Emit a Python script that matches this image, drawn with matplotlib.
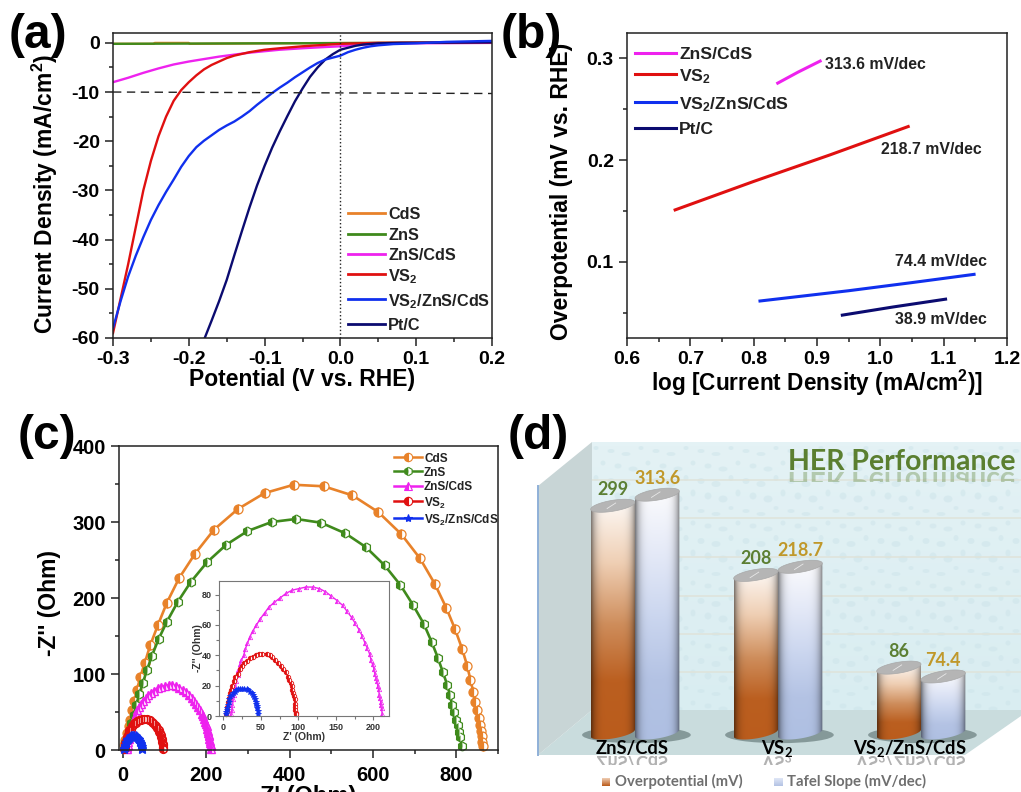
import numpy as np
import matplotlib
matplotlib.use("Agg")
import matplotlib.pyplot as plt
from matplotlib.colors import LinearSegmentedColormap
from matplotlib.font_manager import FontProperties
from matplotlib.lines import Line2D
from matplotlib.patches import Polygon, Ellipse, PathPatch, Rectangle
from matplotlib.textpath import TextPath
from matplotlib.transforms import Affine2D

W, H = 1021, 792

plt.rcParams['font.family'] = ['Liberation Sans', 'DejaVu Sans']
plt.rcParams['font.weight'] = 'bold'
plt.rcParams['axes.labelweight'] = 'bold'
plt.rcParams['mathtext.default'] = 'regular'
plt.rcParams['axes.unicode_minus'] = False

# panel a: polarisation curves
cds_v = [-0.3, -0.246, -0.245, -0.2, -0.199, -0.1, 0.0, 0.1, 0.2]
cds_j = [-0.2, -0.2, -0.02, -0.02, -0.2, -0.1, -0.05, 0.0, 0.0]
zns_v = [-0.3, -0.2, -0.1, 0.0, 0.1, 0.2]
zns_j = [-0.2, -0.15, -0.1, -0.05, 0.0, 0.0]
znscds_v = [-0.3, -0.28, -0.26, -0.24, -0.22, -0.2, -0.18, -0.16, -0.14, -0.12, -0.1, -0.08, -0.05,
            -0.02, 0.0, 0.02, 0.04, 0.08, 0.145, 0.2]
znscds_j = [-8, -7.1, -6.1, -5.2, -4.4, -3.8, -3.3, -2.8, -2.4, -2.0, -1.7, -1.4, -1.1,
            -0.85, -0.7, -0.45, -0.25, -0.1, -0.05, 0.0]
vs2_v = [-0.3, -0.29, -0.28, -0.27, -0.26, -0.25, -0.24, -0.23, -0.22, -0.21, -0.2, -0.19,
         -0.18, -0.17, -0.16, -0.15, -0.14, -0.12, -0.1, -0.08, -0.05, -0.02, 0.0, 0.05, 0.2]
vs2_j = [-59, -52, -45, -37.5, -30, -24, -19, -15, -11.8, -9.6, -8, -6.6,
         -5.4, -4.5, -3.8, -3.1, -2.6, -1.9, -1.4, -1.1, -0.7, -0.4, -0.2, 0.0, 0.1]
blue_v = [-0.3, -0.29, -0.28, -0.27, -0.26, -0.25, -0.24, -0.23, -0.22, -0.21, -0.2, -0.19, -0.18,
          -0.17, -0.16, -0.15, -0.14, -0.13, -0.12, -0.11, -0.1, -0.09, -0.08, -0.07, -0.06, -0.05,
          -0.04, -0.03, -0.02, -0.01, 0.0, 0.01, 0.02, 0.03, 0.04, 0.05, 0.07, 0.1, 0.14, 0.2]
blue_j = [-58, -52.5, -47.5, -43.3, -39.5, -36, -33, -30.3, -27.8, -25.2, -23, -21.2, -19.9,
          -18.8, -17.7, -16.8, -16, -15, -13.9, -12.6, -11.4, -10.2, -9.1, -8.1, -7, -6,
          -5, -4.1, -3.4, -3, -2.6, -1.9, -1.4, -1, -0.7, -0.5, -0.25, -0.1, 0.2, 0.4]
ptc_v = [-0.179, -0.17, -0.16, -0.15, -0.14, -0.13, -0.12, -0.11, -0.1, -0.09, -0.08, -0.07, -0.06,
         -0.05, -0.04, -0.03, -0.02, -0.01, 0.0, 0.01, 0.02, 0.03, 0.05, 0.08, 0.2]
ptc_j = [-60, -56.5, -52.5, -48.2, -43.2, -38.3, -33.5, -29, -25, -21.3, -18, -14.9, -11.9,
         -9.3, -6.9, -5, -3.4, -2.3, -1.4, -1, -0.6, -0.35, -0.1, 0.0, 0.1]

# panel b: tafel lines
tafel_znscds_x = [0.838, 0.87, 0.905]
tafel_znscds_y = [0.2757, 0.2865, 0.2974]
tafel_vs2_x = [0.676, 0.8, 0.92, 1.044]
tafel_vs2_y = [0.151, 0.179, 0.205, 0.233]
tafel_blue_x = [0.81, 0.95, 1.05, 1.148]
tafel_blue_y = [0.0614, 0.0715, 0.0795, 0.0876]
tafel_ptc_x = [0.94, 1.02, 1.103]
tafel_ptc_y = [0.0475, 0.0555, 0.0632]

# panel c: nyquist points
cds_re = [3, 6, 10, 14, 18, 22, 28, 34, 42, 53, 66, 84, 106, 135, 173, 219, 276, 340, 410, 482, 551,
          613, 668, 713, 748, 776, 797, 814, 826, 834, 841, 846, 850, 854, 857, 859, 861, 862, 864]
cds_im = [7, 13, 22, 31, 40, 52, 65, 79, 96, 115, 138, 164, 194, 226, 258, 290, 317, 338, 349, 347, 335,
          313, 284, 252, 219, 187, 159, 133, 111, 92, 76, 63, 52, 42, 33, 25, 18, 11, 5]
zns_re = [6, 10, 15, 20, 26, 32, 40, 48, 58, 70, 86, 106, 132, 163, 202, 248, 299, 357, 416, 476, 534,
          583, 628, 666, 696, 722, 741, 756, 768, 778, 785, 790, 794, 799, 803, 806, 810, 813]
zns_im = [9, 15, 24, 35, 46, 59, 74, 88, 105, 124, 146, 169, 195, 221, 247, 270, 288, 300, 304, 299, 285,
          267, 243, 217, 191, 166, 142, 121, 102, 86, 72, 59, 50, 40, 33, 24, 17, 5]
znscds_re = [10, 11, 12, 13, 14, 16, 17, 19, 20, 22, 24, 27, 29, 32, 35, 39, 44, 49, 55, 61, 68, 76, 84, 92,
             101, 110, 119, 128, 136, 144, 152, 159, 165, 171, 176, 181, 185, 189, 192, 195, 197, 199, 201,
             202, 204, 205, 206, 207, 208, 209, 210, 210.5, 211, 212]
znscds_im = [1, 4, 7, 11, 14, 20, 23, 27, 30, 34, 37, 40, 44, 48, 52, 56, 60, 64, 68, 72, 75, 78, 81, 83,
             84, 85, 85, 84, 82, 79, 76, 73, 69, 65, 61, 57, 53, 48, 45, 41, 37, 34, 31,
             28, 25, 23, 20, 18, 14, 12, 9, 7, 5, 1]
vs2_re = [4, 4.5, 5, 6, 8, 9, 10, 12, 14, 16, 19, 22, 25, 28, 32, 35, 39, 43, 47, 52, 58, 62, 65, 69, 73, 77,
          80, 83, 86, 88, 90, 91, 92, 93, 94, 95, 96, 96, 96, 96.5, 96.5]
vs2_im = [1, 3, 6, 9, 12, 15, 17, 20, 23, 26, 28, 31, 33, 35, 36, 38, 39, 40, 41, 41, 41, 40, 39, 37, 35, 33,
          31, 29, 26, 24, 22, 20, 17, 15, 13, 11, 8, 6, 4, 2, 1]
blue_re = [3.5, 4, 4.5, 5, 6, 7, 8, 9, 11, 13, 15, 17, 20, 22, 25, 28, 31, 33, 36, 38, 39, 41, 42, 43, 44, 44.5,
           45, 45.5, 45.5]
blue_im = [1, 2.5, 4, 5.5, 7, 9, 11, 13, 14, 15, 16, 17, 18, 18, 18, 18, 18, 17, 16, 15, 14, 12.5, 11, 9.5, 8, 6.5,
           5, 3, 1]

# panel d: bars
categories = ['ZnS/CdS', r'VS$_2$', r'VS$_2$/ZnS/CdS']
overpotential = [299, 208, 86]
tafel_slope = [313.6, 218.7, 74.4]

fig = plt.figure(figsize=(W / 100, H / 100), dpi=100, facecolor='white')


def px_axes(x0, y0, x1, y1, **kw):
    return fig.add_axes([x0 / W, 1 - y1 / H, (x1 - x0) / W, (y1 - y0) / H], **kw)


def style(ax, size=14, lw=1.1, col='#222222'):
    for s in ax.spines.values():
        s.set_linewidth(lw)
        s.set_color(col)
    ax.tick_params(which='major', length=5.5, width=lw, labelsize=size, color=col, pad=4)
    ax.tick_params(which='minor', length=3, width=lw, color=col)


def label_at(axis, x, y, box):
    # place an axis label at a pixel position
    axis.set_label_coords((x - box[0]) / (box[2] - box[0]), (box[3] - y) / (box[3] - box[1]))


def legend_entry(x0, x1, xt, y, color, text, size, lw=2, marker=None, ms=6, fill='left'):
    line = Line2D([x0 / W, x1 / W], [1 - y / H, 1 - y / H], transform=fig.transFigure, color=color, lw=lw)
    fig.add_artist(line)
    if marker:
        fig.add_artist(Line2D([(x0 + x1) / 2 / W], [1 - y / H], transform=fig.transFigure, color=color,
                              marker=marker, ms=ms, mew=0.8, fillstyle=fill, markerfacecoloralt='white'))
    fig.text(xt / W, 1 - y / H, text, fontsize=size, va='center_baseline', color='#222222', zorder=20)


ORANGE, GREEN, MAGENTA, RED, BLUE, NAVY = '#e8822a', '#3f8a1c', '#ee22ee', '#e01010', '#1030ee', '#0b0b70'

# (a)
box_a = (113, 33, 492, 338)
ax = px_axes(*box_a)
ax.plot(cds_v, cds_j, color=ORANGE, lw=1.7)
ax.plot(zns_v, zns_j, color=GREEN, lw=1.7)
ax.plot(znscds_v, znscds_j, color=MAGENTA, lw=1.7)
ax.plot(vs2_v, vs2_j, color=RED, lw=1.7)
ax.plot(ptc_v, ptc_j, color=NAVY, lw=1.7)
ax.plot(blue_v, blue_j, color=BLUE, lw=1.7)
ax.plot([-0.3, 0.2], [-10, -10.3], color='#222222', lw=1, ls=(0, (6, 4)))
ax.axvline(0, color='#222222', lw=1, ls=':')
ax.set_xlim(-0.3, 0.2)
ax.set_ylim(-60, 2)
ax.set_xticks([-0.3, -0.2, -0.1, 0.0, 0.1, 0.2])
ax.set_xticks(np.arange(-0.25, 0.2, 0.1), minor=True)
ax.set_yticks([0, -10, -20, -30, -40, -50, -60])
ax.set_yticks(np.arange(-55, 0, 10), minor=True)
style(ax)
ax.set_xlabel('Potential (V vs. RHE)', fontsize=16.5, labelpad=0)
ax.set_ylabel('Current Density (mA/cm$^2$)', fontsize=16.5)
label_at(ax.yaxis, 60, 194, box_a)
for y, col, txt in zip([213, 234, 254, 274, 299, 324], [ORANGE, GREEN, MAGENTA, RED, BLUE, NAVY],
                       ['CdS', 'ZnS', 'ZnS/CdS', r'VS$_2$', r'VS$_2$/ZnS/CdS', 'Pt/C']):
    legend_entry(348, 385, 388, y, col, txt, 11.7)

# (b)
box_b = (627, 33, 1007, 338)
ax = px_axes(*box_b)
ax.plot(tafel_znscds_x, tafel_znscds_y, color=MAGENTA, lw=2.2)
ax.plot(tafel_vs2_x, tafel_vs2_y, color=RED, lw=2.2)
ax.plot(tafel_blue_x, tafel_blue_y, color=BLUE, lw=2.2)
ax.plot(tafel_ptc_x, tafel_ptc_y, color=NAVY, lw=2.2)
ax.set_xlim(0.6, 1.2)
ax.set_ylim(0.025, 0.325)
ax.set_xticks([0.6, 0.7, 0.8, 0.9, 1.0, 1.1, 1.2])
ax.set_xticks(np.arange(0.65, 1.2, 0.1), minor=True)
ax.set_yticks([0.1, 0.2, 0.3])
ax.set_yticks([0.05, 0.15, 0.25], minor=True)
style(ax)
ax.set_xlabel('log [Current Density (mA/cm$^2$)]', fontsize=16.3, labelpad=0)
ax.set_ylabel('Overpotential (mV vs. RHE)', fontsize=16.5)
label_at(ax.yaxis, 573, 191, box_b)
for y, col, txt in zip([53, 74, 102, 128], [MAGENTA, RED, BLUE, NAVY],
                       ['ZnS/CdS', r'VS$_2$', r'VS$_2$/ZnS/CdS', 'Pt/C']):
    legend_entry(635, 676, 679, y, col, txt, 12.6, lw=2.2)
ax.text(0.912, 0.2938, '313.6 mV/dec', fontsize=11.4, va='center', color='#222222')
ax.text(1.001, 0.21, '218.7 mV/dec', fontsize=11.4, va='center', color='#222222')
ax.text(1.023, 0.1006, '74.4 mV/dec', fontsize=11.4, va='center', color='#222222')
ax.text(1.023, 0.0431, '38.9 mV/dec', fontsize=11.4, va='center', color='#222222')

# (c)
box_c = (119, 446, 498, 750)
ax = px_axes(*box_c)


def nyquist(a, re, im, color, marker, ms, lw, mew, fill='left'):
    a.plot(re, im, color=color, marker=marker, ms=ms, lw=lw, mew=mew, fillstyle=fill,
           markerfacecoloralt='white', clip_on=False)


nyquist(ax, cds_re, cds_im, ORANGE, 'o', 6.5, 1.9, 0.9)
nyquist(ax, zns_re, zns_im, GREEN, 'h', 6.5, 1.9, 0.9)
nyquist(ax, znscds_re, znscds_im, MAGENTA, '^', 6, 1.8, 1.0)
nyquist(ax, vs2_re, vs2_im, RED, 'o', 5.5, 2.2, 1.1)
nyquist(ax, blue_re, blue_im, BLUE, '*', 6.5, 2.2, 1.0, fill='full')
ax.set_xlim(-9, 900)
ax.set_ylim(0, 400)
ax.set_xticks([0, 200, 400, 600, 800])
ax.set_xticks([100, 300, 500, 700, 900], minor=True)
ax.set_yticks([0, 100, 200, 300, 400])
ax.set_yticks([50, 150, 250, 350], minor=True)
style(ax, size=14.5)
ax.tick_params(axis='x', which='major', pad=6)
ax.set_xlabel("Z' (Ohm)", fontsize=17, labelpad=0)
ax.set_ylabel("-Z'' (Ohm)", fontsize=16.5)
label_at(ax.yaxis, 61, 603, box_c)
for y, col, txt, mk, fl in zip([457, 471, 486, 501, 518], [ORANGE, GREEN, MAGENTA, RED, BLUE],
                               ['CdS', 'ZnS', 'ZnS/CdS', r'VS$_2$', r'VS$_2$/ZnS/CdS'],
                               ['o', 'h', '^', 'o', '*'], ['left', 'left', 'left', 'left', 'full']):
    legend_entry(394, 422, 424, y, col, txt, 8.5, lw=1.8, marker=mk, fill=fl)

ins = px_axes(219, 581, 389, 716)
nyquist(ins, znscds_re, znscds_im, MAGENTA, '^', 3.2, 1.0, 0.5)
nyquist(ins, vs2_re, vs2_im, RED, 'o', 3.2, 1.0, 0.6)
nyquist(ins, blue_re, blue_im, BLUE, '*', 4, 1.0, 0.6, fill='full')
ins.set_xlim(-6, 221)
ins.set_ylim(0, 89)
ins.set_xticks([0, 50, 100, 150, 200])
ins.set_xticks([25, 75, 125, 175], minor=True)
ins.set_yticks([0, 20, 40, 60, 80])
ins.set_yticks([10, 30, 50, 70], minor=True)
style(ins, size=6.5, lw=0.8, col='#777777')
ins.tick_params(which='major', length=3, pad=2, labelcolor='#333333')
ins.tick_params(which='minor', length=2)
ins.set_xlabel("Z' (Ohm)", fontsize=7.5, labelpad=0, color='#333333')
ins.set_ylabel("-Z'' (Ohm)", fontsize=7.5, labelpad=-1, color='#333333')

# (d)
bg = px_axes(510, 400, 1021, 792)
bg.axis('off')
wall = LinearSegmentedColormap.from_list('wall', ['#e4f2f5', '#d9edf1'])
bg.imshow(np.linspace(0, 1, 64)[:, None], cmap=wall, extent=(592, 1021, 710, 442), aspect='auto', zorder=1)
bg.set_xlim(510, 1021)
bg.set_ylim(792, 400)
# droplet texture on the back wall
for i in range(0, 30):
    for j in range(0, 18):
        ex = 596 + i * 15 + (j % 2) * 7
        ey = 448 + j * 15 + (i % 3) * 3
        if ex < 1021:
            bg.add_patch(Ellipse((ex, ey), 5 + i % 3 * 2, 4 + j % 4, fc='#cde4ea', ec='none', alpha=0.5, zorder=1.5))
for gy in [480, 518, 557, 596, 634, 672]:
    bg.plot([592, 1021], [gy, gy], color='#dfe3da', lw=1.1, zorder=2)
bg.add_patch(Polygon([(592, 710), (1021, 710), (1021, 716), (965, 755), (538, 755)], fc='#c9dcdd', ec='none', zorder=2))
bg.add_patch(Polygon([(538, 486), (592, 442), (592, 710), (538, 755)], fc='#c8d5d6', ec='none', zorder=2))
bg.plot([538, 538], [486, 755], color='#8fb0d8', lw=1.4, zorder=3)

# bars use value units on y and category units on x
PX_PER_UNIT = 0.76
BASE = 733
GROUP0, GROUP_STEP = 635, 143
bars = px_axes(510, 400, 1021, 792, facecolor='none')
bars.axis('off')

orange_grad = LinearSegmentedColormap.from_list('o', ['#bb5c1c', '#bb5f20', '#cf8f5e', '#efcfb4', '#fdf8f4'])
blue_grad = LinearSegmentedColormap.from_list('b', ['#aebfe2', '#b4c3e4', '#cbd6ef', '#e4e9f7', '#fbfbfd'])
BAR_W = 0.31
RX = BAR_W / 2
RY = 5.5 / PX_PER_UNIT
TILT = 3.5 / PX_PER_UNIT


def cylinder(ax, xc, value, cmap, z):
    t = np.linspace(np.pi, 2 * np.pi, 60)
    bx = xc + RX * np.cos(t)
    by = RY * np.sin(t) + TILT * np.cos(t)
    tx = xc + RX * np.cos(t[::-1])
    ty = value + TILT * np.cos(t[::-1])
    clip = Polygon(np.r_[np.c_[bx, by], np.c_[tx, ty]], transform=ax.transData, fc='none', ec='none')
    ax.add_patch(clip)
    v = cmap(np.linspace(0, 1, 128))[:, :3]
    u = np.linspace(-1, 1, 80)
    shade = 1 - 0.5 * np.abs(u) ** 5
    img = v[:, None, :] * shade[None, :, None]
    artist = ax.imshow(img, origin='lower', aspect='auto', zorder=z,
                       extent=(xc - RX, xc + RX, -RY - TILT, value + TILT), interpolation='bilinear')
    artist.set_clip_path(clip)
    t2 = np.linspace(0, 2 * np.pi, 80)
    ax.add_patch(Polygon(np.c_[xc + RX * np.cos(t2), value + RY * np.sin(t2) + TILT * np.cos(t2)],
                         fc='#b5b5b5', ec='#a8a8a8', lw=0.5, zorder=z + 0.5))
    ax.plot([xc - 0.04, xc + 0.02], [value - RY * 0.5, value + RY * 0.5], color='#e8e8e8', lw=0.6, zorder=z + 0.6)


def reflection(text, x, y, size, color, height, family='Lato', weight='normal', alpha=0.3):
    # faded mirror image below a baseline, in bg pixels (y axis points down there)
    path = TextPath((0, 0), text, size=size, prop=FontProperties(family=family, weight=weight))
    bb = path.get_extents()
    patch = PathPatch(path, fc=color, ec='none', alpha=alpha, zorder=9,
                      transform=Affine2D().translate(x - bb.width / 2 - bb.x0, y) + bg.transData)
    bg.add_patch(patch)
    patch.set_clip_path(Rectangle((0, y), W, height, transform=bg.transData))


label_shift = [-0.02, -0.01, -0.075]
for i, cat in enumerate(categories):
    x1, x2 = i - 0.155, i + 0.155
    bars.add_patch(Ellipse((i + 0.01, -RY * 0.35), 0.76, RY * 3.0, fc='#6f8383', ec='none', alpha=0.75, zorder=4))
    cylinder(bars, x1, overpotential[i], orange_grad, 5)
    cylinder(bars, x2, tafel_slope[i], blue_grad, 6)
    bars.text(x1, overpotential[i] + 10, str(overpotential[i]), ha='center', va='bottom', family='Lato',
              weight='bold', fontsize=13, color='#5c7f33', zorder=8)
    bars.text(x2, tafel_slope[i] + 10, str(tafel_slope[i]), ha='center', va='bottom', family='Lato',
              weight='bold', fontsize=13, color='#c0982a', zorder=8)
    bars.text(i + label_shift[i], -21, cat, ha='center', va='center', family='Lato', weight='bold', fontsize=13.2,
              color='black', zorder=8)
    reflection(cat, GROUP0 + GROUP_STEP * (i + label_shift[i]), 756, 18, 'black', 9, weight='bold')
bars.set_xlim((510 - GROUP0) / GROUP_STEP, (1021 - GROUP0) / GROUP_STEP)
bars.set_ylim((BASE - 792) / PX_PER_UNIT, (BASE - 400) / PX_PER_UNIT)

bg.text(1016, 462, 'HER Performance', ha='right', va='center', family='Lato', weight='bold', fontsize=20.5,
        color='#5b7f30', zorder=9)
reflection('HER Performance', 902, 472, 28.5, '#5b7f30', 10, weight='bold', alpha=0.35)
orange_swatch = np.linspace(1, 0, 16)[:, None]
bg.imshow(orange_swatch, cmap=LinearSegmentedColormap.from_list('s1', ['#bb5c1c', '#eecbb0']),
          extent=(602, 610, 786, 778), aspect='auto', zorder=5)
bg.imshow(orange_swatch, cmap=LinearSegmentedColormap.from_list('s2', ['#b4c3e4', '#dfe6f6']),
          extent=(774, 783, 786, 778), aspect='auto', zorder=5)
bg.set_xlim(510, 1021)
bg.set_ylim(792, 400)
bg.text(615, 786, 'Overpotential (mV)', family='Lato', weight='bold', fontsize=10.7, color='#6f6f6f', va='baseline')
bg.text(787, 786, 'Tafel Slope (mV/dec)', family='Lato', weight='bold', fontsize=10.7, color='#6f6f6f', va='baseline')

# panel letters
fig.text(9 / W, 1 - 48 / H, '(a)', fontsize=34.5, va='baseline')
fig.text(501 / W, 1 - 48 / H, '(b)', fontsize=34.5, va='baseline')
fig.text(18 / W, 1 - 449 / H, '(c)', fontsize=34.5, va='baseline')
fig.text(508 / W, 1 - 449 / H, '(d)', fontsize=34.5, va='baseline')

fig.savefig('out.png', dpi=100)
